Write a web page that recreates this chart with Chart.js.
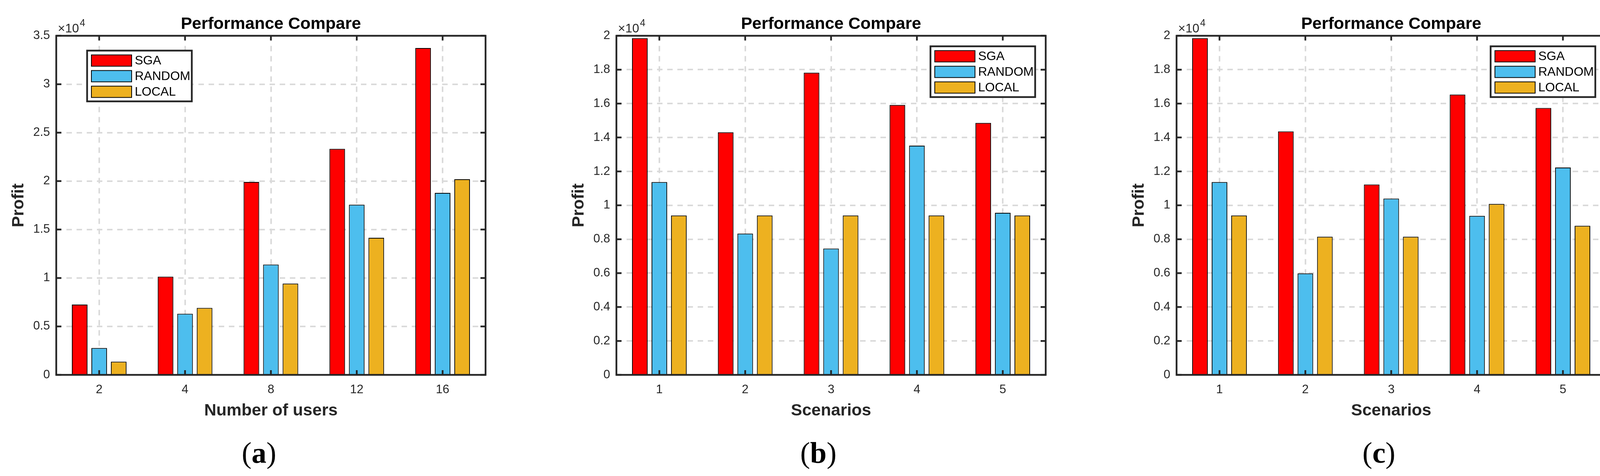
<!DOCTYPE html>
<html>
<head>
<meta charset="utf-8">
<script src="https://cdn.jsdelivr.net/npm/chart.js@4.4.1/dist/chart.umd.min.js"></script>
<style>
    html, body { margin: 0; padding: 0; background: #fff; }
    body { width: 4147px; height: 1219px; position: relative; overflow: hidden; }
    .panel { position: absolute; top: 0; width: 1260px; height: 1100px; }
    .cap { position: absolute; top: 1121px; width: 200px; text-align: center;
           font-family: "Liberation Serif", serif; font-size: 76px; line-height: 76px; color: #000; }
</style>
</head>
<body>
<div class="panel" style="left:0px"><canvas id="chartA"></canvas></div>
<div class="panel" style="left:1434px"><canvas id="chartB"></canvas></div>
<div class="panel" style="left:2868px"><canvas id="chartC"></canvas></div>
<div class="cap" style="left:563px">(<b>a</b>)</div>
<div class="cap" style="left:1995px">(<b>b</b>)</div>
<div class="cap" style="left:3430px">(<b>c</b>)</div>

<script>
// data
const seriesNames = ["SGA", "RANDOM", "LOCAL"];
const usersLabels = ["2", "4", "8", "12", "16"];
const scenarioLabels = ["1", "2", "3", "4", "5"];

const sgaA = [7250, 10140, 19910, 23330, 33730];
const randomA = [2770, 6310, 11390, 17560, 18780];
const localA = [1360, 6910, 9420, 14150, 20190];

const sgaB = [19860, 14310, 17820, 15920, 14860];
const randomB = [11370, 8330, 7450, 13520, 9560];
const localB = [9400, 9400, 9400, 9400, 9400];

const sgaC = [19860, 14360, 11230, 16530, 15740];
const randomC = [11370, 5980, 10400, 9380, 12230];
const localC = [9400, 8150, 8150, 10080, 8790];

// y axis ranges (tick labels are value / 1e4)
const yMaxA = 35000, yStepA = 5000;
const yMaxBC = 20000, yStepBC = 2000;

const barColors = ["#FF0000", "#4DBEEE", "#EDB120"];
const axisColor = "#262626";

Chart.defaults.font.family = "'Liberation Sans', Arial, sans-serif";
Chart.defaults.color = axisColor;

/**
 * box, inward ticks, x10^4 and legend, matlab style
 */
const matlabAxes = {
    id: "matlabAxes",
    afterDatasetsDraw: function (chart, args, opts) {
        let ctx = chart.ctx;
        let a = chart.chartArea;
        let xs = chart.scales.x;
        let ys = chart.scales.y;
        ctx.save();
        ctx.setLineDash([]);
        ctx.strokeStyle = axisColor;
        ctx.lineWidth = 4.5;
        ctx.beginPath();
        ys.ticks.forEach(function (t, i) {
            let py = ys.getPixelForTick(i);
            ctx.moveTo(a.left, py); ctx.lineTo(a.left + 13, py);
            ctx.moveTo(a.right, py); ctx.lineTo(a.right - 13, py);
        });
        xs.ticks.forEach(function (t, i) {
            let px = xs.getPixelForTick(i);
            ctx.moveTo(px, a.bottom); ctx.lineTo(px, a.bottom - 12);
            ctx.moveTo(px, a.top); ctx.lineTo(px, a.top + 12);
        });
        ctx.stroke();
        ctx.strokeRect(a.left, a.top, a.right - a.left, a.bottom - a.top);

        // exponent
        ctx.fillStyle = axisColor;
        ctx.textBaseline = "alphabetic";
        ctx.textAlign = "left";
        ctx.font = "32px 'Liberation Sans'";
        ctx.fillText("\u00d710", a.left + 4, a.top - 9);
        let w = ctx.measureText("\u00d710").width;
        ctx.font = "25px 'Liberation Sans'";
        ctx.fillText("4", a.left + 6 + w, a.top - 25);

        // legend
        let boxW = 268, boxH = 130;
        let bx = opts.legendLeft ? a.left + 79 : a.right - 27 - boxW;
        let by = opts.legendLeft ? a.top + 38 : a.top + 27;
        ctx.fillStyle = "#fff";
        ctx.fillRect(bx, by, boxW, boxH);
        ctx.lineWidth = 4.5;
        ctx.strokeStyle = axisColor;
        ctx.strokeRect(bx, by, boxW, boxH);
        ctx.font = "32px 'Liberation Sans'";
        ctx.textBaseline = "middle";
        chart.data.datasets.forEach(function (ds, i) {
            let sy = by + 11 + i * 40;
            ctx.fillStyle = ds.backgroundColor;
            ctx.fillRect(bx + 11, sy, 103, 29);
            ctx.lineWidth = 2;
            ctx.strokeStyle = "#000";
            ctx.strokeRect(bx + 11, sy, 103, 29);
            ctx.fillStyle = "#000";
            ctx.fillText(ds.label, bx + 122, sy + 16);
        });
        ctx.restore();
    }
};

function makeChart(id, labels, sga, rnd, loc, yMax, yStep, xTitle, legendLeft) {
    let values = [sga, rnd, loc];
    return new Chart(document.getElementById(id), {
        type: "bar",
        data: {
            labels: labels,
            datasets: seriesNames.map(function (name, i) {
                return {
                    label: name,
                    data: values[i],
                    backgroundColor: barColors[i],
                    borderColor: "#000",
                    borderWidth: 2,
                    categoryPercentage: 0.682,
                    barPercentage: 0.8
                };
            })
        },
        options: {
            responsive: true,
            maintainAspectRatio: false,
            devicePixelRatio: 1,
            animation: false,
            layout: { padding: { left: 0, right: 17, top: 0, bottom: 0 } },
            plugins: {
                legend: { display: false },
                tooltip: { enabled: false },
                title: {
                    display: true,
                    text: "Performance Compare",
                    fullSize: false,
                    color: "#000",
                    font: { size: 43, weight: "bold", lineHeight: 1.2 },
                    padding: { top: 36, bottom: 4 }
                },
                matlabAxes: { legendLeft: legendLeft }
            },
            scales: {
                x: {
                    grid: { offset: false, color: "#dadada", lineWidth: 4, drawTicks: false },
                    border: { display: false, dash: [14, 12] },
                    ticks: { font: { size: 31 }, padding: 20, color: axisColor },
                    title: {
                        display: true,
                        text: xTitle,
                        color: axisColor,
                        font: { size: 43, weight: "bold", lineHeight: 1.2 },
                        padding: { top: 0, bottom: 22 }
                    },
                    afterFit: function (scale) { scale.height = 140; }
                },
                y: {
                    min: 0,
                    max: yMax,
                    grid: { color: "#dadada", lineWidth: 4, drawTicks: false },
                    border: { display: false, dash: [14, 12] },
                    ticks: {
                        stepSize: yStep,
                        font: { size: 31 },
                        padding: 16,
                        color: axisColor,
                        callback: function (v) { return String(parseFloat((v / 10000).toFixed(2))); }
                    },
                    title: {
                        display: true,
                        text: "Profit",
                        color: axisColor,
                        font: { size: 43, weight: "bold", lineHeight: 1.2 },
                        padding: { top: 22, bottom: 0 }
                    },
                    afterFit: function (scale) { scale.width = 144; }
                }
            }
        },
        plugins: [matlabAxes]
    });
}

makeChart("chartA", usersLabels, sgaA, randomA, localA, yMaxA, yStepA, "Number of users", true);
makeChart("chartB", scenarioLabels, sgaB, randomB, localB, yMaxBC, yStepBC, "Scenarios", false);
makeChart("chartC", scenarioLabels, sgaC, randomC, localC, yMaxBC, yStepBC, "Scenarios", false);
</script>
</body>
</html>
